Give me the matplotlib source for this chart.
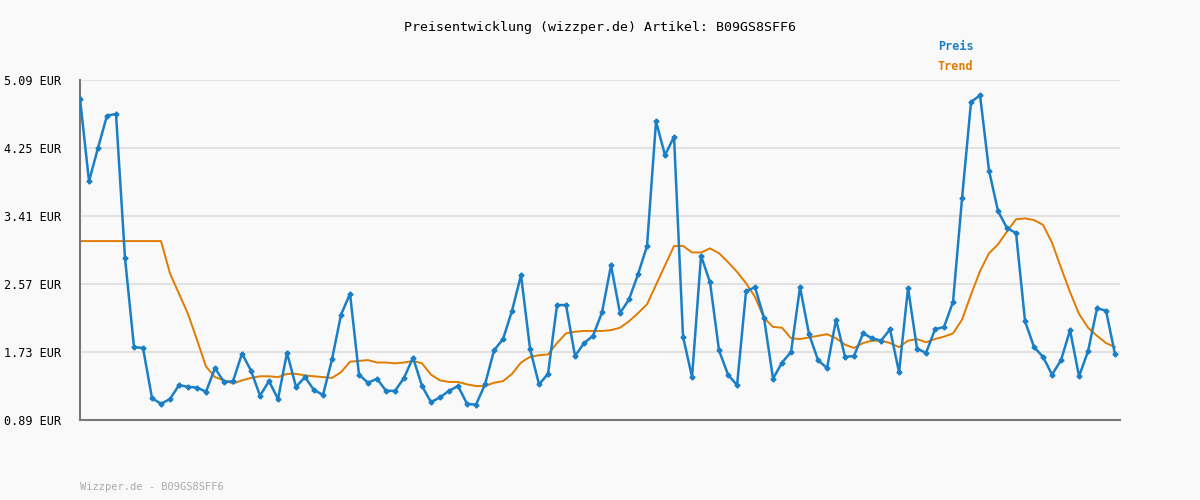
import matplotlib
matplotlib.use("Agg")
import matplotlib.pyplot as plt

preis = [4.86,3.84,4.25,4.65,4.67,2.89,1.79,1.78,1.16,1.09,
         1.15,1.32,1.30,1.29,1.24,1.53,1.36,1.37,1.71,1.50,
         1.19,1.37,1.15,1.72,1.30,1.42,1.26,1.20,1.64,2.19,
         2.45,1.45,1.35,1.40,1.25,1.25,1.41,1.66,1.31,1.11,
         1.17,1.25,1.31,1.09,1.08,1.33,1.75,1.89,2.24,2.68,
         1.77,1.33,1.46,2.31,2.31,1.68,1.84,1.93,2.22,2.80,
         2.21,2.38,2.69,3.04,4.58,4.16,4.39,1.92,1.42,2.92,
         2.59,1.75,1.45,1.32,2.48,2.53,2.15,1.40,1.60,1.73,
         2.53,1.95,1.63,1.53,2.13,1.67,1.68,1.96,1.90,1.87,
         2.01,1.48,2.52,1.77,1.72,2.01,2.04,2.35,3.63,4.82,
         4.90,3.97,3.47,3.26,3.20,2.11,1.79,1.67,1.45,1.63,
         2.00,1.43,1.74,2.27,2.24,1.70]
trend = [3.10,3.10,3.10,3.10,3.10,3.10,3.10,3.10,3.10,3.10,
         2.70,2.45,2.20,1.88,1.55,1.42,1.38,1.34,1.38,1.41,
         1.43,1.43,1.42,1.46,1.46,1.44,1.43,1.42,1.41,1.48,
         1.61,1.62,1.63,1.60,1.60,1.59,1.60,1.62,1.59,1.45,
         1.38,1.36,1.36,1.33,1.31,1.31,1.35,1.37,1.46,1.60,
         1.67,1.69,1.70,1.84,1.96,1.98,1.99,1.99,1.99,2.00,
         2.03,2.11,2.21,2.32,2.56,2.80,3.04,3.04,2.96,2.96,
         3.01,2.95,2.84,2.72,2.58,2.41,2.15,2.04,2.03,1.90,
         1.89,1.91,1.93,1.95,1.90,1.82,1.78,1.84,1.87,1.87,
         1.84,1.79,1.87,1.89,1.85,1.89,1.92,1.96,2.13,2.44,
         2.73,2.95,3.06,3.22,3.37,3.38,3.36,3.30,3.08,2.77,
         2.47,2.20,2.03,1.93,1.84,1.79]
yticks = [0.89,1.73,2.57,3.41,4.25,5.09]
title = "Preisentwicklung (wizzper.de) Artikel: B09GS8SFF6"

blue, orange = "#1a7fc7", "#e07b00"
mono = "DejaVu Sans Mono"
fig = plt.figure(figsize=(12,5), dpi=100, facecolor="#f9f9f9")
ax = fig.add_axes([80/1200, 80/500, 1040/1200, 340/500], facecolor="#f9f9f9")
x = list(range(len(preis)))
ax.plot(x, trend, color=orange, lw=1.4, zorder=2)
ax.plot(x, preis, color=blue, lw=1.8, marker="P", ms=3.2, zorder=3)
ax.set_xlim(0, 115.55)
ax.set_ylim(0.89, 5.09)
ax.set_yticks(yticks)
ax.set_yticklabels([f"{v:.2f} EUR" for v in yticks], fontfamily=mono, fontsize=8.5)
ax.set_xticks([])
ax.tick_params(axis="y", length=0, pad=14)
ax.grid(axis="y", color="#e2e2e2", lw=1.5)
ax.set_axisbelow(True)
for s in ["top","right"]:
    ax.spines[s].set_visible(False)
for s in ["left","bottom"]:
    ax.spines[s].set_color("#777777")
    ax.spines[s].set_linewidth(1.5)
fig.text(0.5, 1-28/500, title, ha="center", va="center", fontfamily=mono, fontsize=9.5)
fig.text(938/1200, 1-47/500, "Preis", color=blue, fontfamily=mono, fontweight="bold", fontsize=8.5, va="center")
fig.text(938/1200, 1-67/500, "Trend", color=orange, fontfamily=mono, fontweight="bold", fontsize=8.5, va="center")
fig.text(80/1200, 1-487/500, "Wizzper.de - B09GS8SFF6", color="#aaaaaa", fontfamily=mono, fontsize=7.5, va="center")
fig.savefig("out.png", dpi=100, facecolor=fig.get_facecolor())
